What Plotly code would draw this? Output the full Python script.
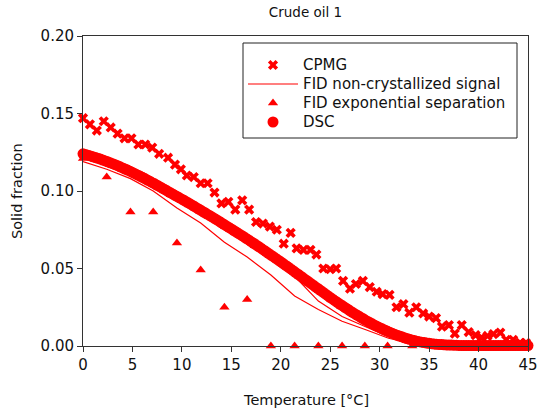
import plotly.graph_objects as go

# ---- data ----
cpmg_t = [0.0, 0.7, 1.4, 2.1, 2.8, 3.5, 4.2, 4.9, 5.6, 6.3, 7.0, 7.7, 8.6, 9.3, 9.9,
          10.5, 11.2, 11.9, 12.6, 13.3, 14.0, 14.7, 15.4, 16.1, 16.8, 17.5, 18.2, 18.9,
          19.6, 20.3, 21.0, 21.6, 22.3, 23.0, 23.6, 24.3, 25.0, 25.6, 26.3, 27.0, 27.6,
          28.3, 29.0, 29.7, 30.3, 31.0, 31.7, 32.4, 33.0, 33.7, 34.4, 35.0, 35.7, 36.3,
          37.0, 37.6, 38.3, 39.0, 39.7, 40.3, 40.9, 41.5, 42.2, 42.8, 43.5, 44.2, 44.8]
cpmg_v = [0.147, 0.143, 0.139, 0.145, 0.141, 0.137, 0.134, 0.134, 0.130, 0.130, 0.128,
          0.124, 0.1215, 0.117, 0.114, 0.110, 0.109, 0.105, 0.105, 0.099, 0.092, 0.093,
          0.088, 0.094, 0.088, 0.080, 0.079, 0.077, 0.075, 0.066, 0.073, 0.063, 0.062,
          0.062, 0.059, 0.050, 0.0495, 0.050, 0.042, 0.037, 0.040, 0.042, 0.038, 0.035,
          0.0335, 0.033, 0.025, 0.027, 0.0215, 0.025, 0.021, 0.019, 0.018, 0.0125, 0.0135,
          0.008, 0.0135, 0.009, 0.007, 0.0055, 0.0065, 0.0077, 0.0086, 0.004, 0.004,
          0.002, 0.002]

fid_t = [0.0, 2.4, 4.8, 7.1, 9.5, 11.9, 14.3, 16.6, 19.0, 21.4, 23.8, 26.2, 28.6, 30.9,
         33.3, 35.7, 38.1, 40.5, 42.8, 45.0,
         45.0, 42.8, 40.5, 38.1, 35.7, 33.3, 30.9, 28.6, 26.2, 23.8, 21.4, 19.0, 16.6,
         14.3, 11.9, 9.5, 7.1, 4.8, 2.4, 0.0]
fid_v = [0.119, 0.114, 0.108, 0.100, 0.089, 0.0794, 0.067, 0.0574, 0.0458, 0.0323,
         0.0235, 0.016, 0.0105, 0.005, 0.0015, 0.0003, 0.0, 0.0, 0.0, 0.0,
         0.0, 0.0, 0.0001, 0.0002, 0.0008, 0.002, 0.006, 0.0125, 0.019, 0.029, 0.045,
         0.058, 0.068, 0.078, 0.087, 0.096, 0.104, 0.111, 0.118, 0.122]

exp_t = [0.0, 2.4, 4.8, 7.1, 9.5, 11.9, 14.3, 16.6, 19.0, 21.4, 23.8, 26.2, 28.5, 30.8,
         33.3, 35.7, 38.1, 40.5, 42.8]
exp_v = [0.121, 0.109, 0.0865, 0.0865, 0.0665, 0.049, 0.025, 0.030, 0.0, 0.0, 0.0, 0.0,
         0.0, 0.0, 0.0, 0.0, 0.0, 0.0, 0.0]

dsc_t = [0.0, 0.25, 0.5, 0.75, 1.0, 1.25, 1.5, 1.75, 2.0, 2.25, 2.5, 2.75, 3.0, 3.25, 3.5,
         3.75, 4.0, 4.25, 4.5, 4.75, 5.0, 5.25, 5.5, 5.75, 6.0, 6.25, 6.5, 6.75, 7.0, 7.25,
         7.5, 7.75, 8.0, 8.25, 8.5, 8.75, 9.0, 9.25, 9.5, 9.75, 10.0, 10.25, 10.5, 10.75,
         11.0, 11.25, 11.5, 11.75, 12.0, 12.25, 12.5, 12.75, 13.0, 13.25, 13.5, 13.75, 14.0,
         14.25, 14.5, 14.75, 15.0, 15.25, 15.5, 15.75, 16.0, 16.25, 16.5, 16.75, 17.0, 17.25,
         17.5, 17.75, 18.0, 18.25, 18.5, 18.75, 19.0, 19.25, 19.5, 19.75, 20.0, 20.25, 20.5,
         20.75, 21.0, 21.25, 21.5, 21.75, 22.0, 22.25, 22.5, 22.75, 23.0, 23.25, 23.5, 23.75,
         24.0, 24.25, 24.5, 24.75, 25.0, 25.25, 25.5, 25.75, 26.0, 26.25, 26.5, 26.75, 27.0,
         27.25, 27.5, 27.75, 28.0, 28.25, 28.5, 28.75, 29.0, 29.25, 29.5, 29.75, 30.0, 30.25,
         30.5, 30.75, 31.0, 31.25, 31.5, 31.75, 32.0, 32.25, 32.5, 32.75, 33.0, 33.25, 33.5,
         33.75, 34.0, 34.25, 34.5, 34.75, 35.0, 35.25, 35.5, 35.75, 36.0, 36.25, 36.5, 36.75,
         37.0, 37.25, 37.5, 37.75, 38.0, 38.25, 38.5, 38.75, 39.0, 39.25, 39.5, 39.75, 40.0,
         40.25, 40.5, 40.75, 41.0, 41.25, 41.5, 41.75, 42.0, 42.25, 42.5, 42.75, 43.0, 43.25,
         43.5, 43.75, 44.0, 44.25, 44.5, 44.75, 45.0]
dsc_v = [0.1240, 0.1236, 0.1231, 0.1226, 0.1221, 0.1216, 0.1211, 0.1206, 0.1200, 0.1194,
         0.1188, 0.1182, 0.1176, 0.1170, 0.1163, 0.1156, 0.1149, 0.1142, 0.1135, 0.1128,
         0.1120, 0.1112, 0.1104, 0.1096, 0.1088, 0.1080, 0.1071, 0.1063, 0.1054, 0.1046,
         0.1037, 0.1028, 0.1019, 0.1010, 0.1001, 0.0992, 0.0983, 0.0974, 0.0965, 0.0956,
         0.0947, 0.0938, 0.0929, 0.0920, 0.0910, 0.0901, 0.0891, 0.0882, 0.0872, 0.0863,
         0.0853, 0.0844, 0.0834, 0.0825, 0.0815, 0.0805, 0.0795, 0.0785, 0.0775, 0.0765,
         0.0755, 0.0745, 0.0735, 0.0725, 0.0715, 0.0705, 0.0694, 0.0684, 0.0673, 0.0663,
         0.0652, 0.0642, 0.0631, 0.0620, 0.0609, 0.0598, 0.0587, 0.0576, 0.0565, 0.0554,
         0.0543, 0.0532, 0.0520, 0.0509, 0.0497, 0.0486, 0.0474, 0.0463, 0.0451, 0.0440,
         0.0428, 0.0417, 0.0405, 0.0394, 0.0382, 0.0371, 0.0359, 0.0348, 0.0336, 0.0325,
         0.0313, 0.0302, 0.0291, 0.0280, 0.0269, 0.0259, 0.0248, 0.0238, 0.0227, 0.0217,
         0.0207, 0.0198, 0.0188, 0.0179, 0.0169, 0.0160, 0.0151, 0.0143, 0.0134, 0.0126,
         0.0118, 0.0111, 0.0103, 0.0096, 0.0089, 0.0083, 0.0076, 0.0070, 0.0064, 0.0059,
         0.0053, 0.0048, 0.0043, 0.0039, 0.0035, 0.0031, 0.0028, 0.0025, 0.0022, 0.0019,
         0.0017, 0.0015, 0.0013, 0.0011, 0.0010, 0.0009, 0.0008, 0.0007, 0.0006, 0.0006,
         0.0005, 0.0005, 0.0004, 0.0003, 0.0003, 0.0003, 0.0003, 0.0003, 0.0003, 0.0003,
         0.0003, 0.0003, 0.0003, 0.0003, 0.0003, 0.0003, 0.0003, 0.0003, 0.0003, 0.0003,
         0.0003, 0.0003, 0.0003, 0.0003, 0.0003, 0.0003, 0.0003, 0.0003, 0.0003, 0.0003,
         0.0003]

x_ticks = [0, 5, 10, 15, 20, 25, 30, 35, 40, 45]
y_ticks = [0.00, 0.05, 0.10, 0.15, 0.20]

RED = "#ff0000"
FONT = "DejaVu Sans, Liberation Sans, Arial, sans-serif"
TXT = "#111"


def lg(name):
    return f'<span style="font-size:15px">{name}</span>'


# plot area in pixels (for paper-coordinate conversions)
PL, PR, PT, PB = 83, 528, 36, 346
PW, PH = PR - PL, PB - PT

fig = go.Figure()
fig.add_trace(go.Scatter(x=dsc_t, y=dsc_v, mode="markers", name=lg("DSC"),
                         marker=dict(symbol="circle", size=11, color=RED),
                         cliponaxis=False, legendrank=4))
fig.add_trace(go.Scatter(x=fid_t, y=fid_v, mode="lines", name=lg("FID non-crystallized signal"),
                         line=dict(color=RED, width=1.2), cliponaxis=False, legendrank=2))
fig.add_trace(go.Scatter(x=exp_t, y=exp_v, mode="markers", name=lg("FID exponential separation"),
                         marker=dict(symbol="triangle-up", size=9, color=RED),
                         cliponaxis=False, legendrank=3))
fig.add_trace(go.Scatter(x=cpmg_t, y=cpmg_v, mode="markers", name=lg("CPMG"),
                         marker=dict(symbol="x", size=9, color=RED, line=dict(width=0)),
                         cliponaxis=False, legendrank=1))

axis_common = dict(showline=True, linecolor="#333", linewidth=1, mirror=True,
                   ticks="outside", ticklen=5, tickcolor="#333", showgrid=False,
                   zeroline=False, automargin=False,
                   tickfont=dict(family=FONT, size=15, color=TXT))

fig.update_layout(
    width=539, height=409,
    margin=dict(l=PL, r=539 - PR, t=PT, b=409 - PB),
    plot_bgcolor="white", paper_bgcolor="white",
    font=dict(family=FONT, size=14, color=TXT),
    title=dict(text="Crude oil 1", x=((PL + PR) / 2 / 539), xanchor="center", y=1 - 12 / 409,
               yanchor="middle", font=dict(family=FONT, size=13.5, color=TXT)),
    xaxis=dict(range=[0, 45], tickvals=x_ticks, ticktext=[str(v) for v in x_ticks],
               **axis_common),
    yaxis=dict(range=[0, 0.20], tickvals=y_ticks, ticktext=[f"{v:.2f}" for v in y_ticks],
               **axis_common),
    legend=dict(x=(243 - PL) / PW, y=(PB - 50.5) / PH, xanchor="left", yanchor="top",
                bgcolor="rgba(0,0,0,0)", borderwidth=0,
                font=dict(family=FONT, size=12.2, color=TXT),
                itemwidth=50, tracegroupgap=0, traceorder="normal"),
    shapes=[dict(type="rect", xref="paper", yref="paper", layer="above",
                 x0=(243 - PL) / PW, x1=(517 - PL) / PW,
                 y0=(PB - 138) / PH, y1=(PB - 43) / PH,
                 line=dict(color="#222", width=1), fillcolor="white")],
    annotations=[
        dict(text="Temperature [°C]", xref="paper", yref="paper", x=0.5, y=-(400 - PB) / PH,
             xanchor="center", yanchor="middle", showarrow=False,
             font=dict(family=FONT, size=14.5, color=TXT)),
        dict(text="Solid fraction", xref="paper", yref="paper", x=-(PL - 17) / PW, y=0.5,
             xanchor="center", yanchor="middle", showarrow=False, textangle=-90,
             font=dict(family=FONT, size=14.5, color=TXT)),
    ],
)

fig.write_html("out.html")
